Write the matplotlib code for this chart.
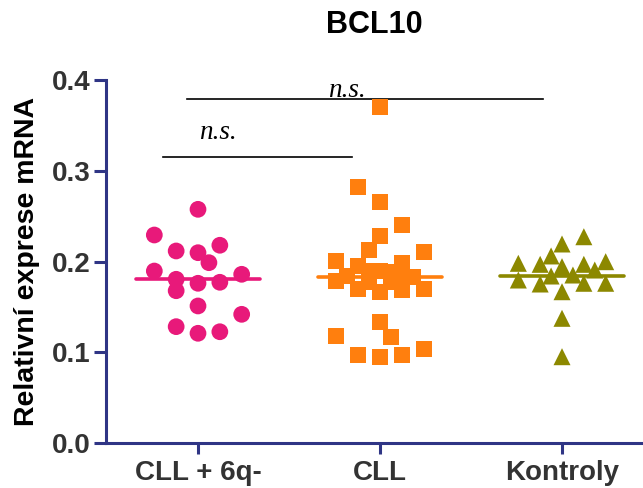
import matplotlib
matplotlib.use("Agg")
import matplotlib.pyplot as plt
import numpy as np

# ---- data ----
categories = ["CLL + 6q-", "CLL", "Kontroly"]
title = "BCL10"
ylabel = "Relativní exprese mRNA"
yticks = [0.0, 0.1, 0.2, 0.3, 0.4]
ytick_labels = ["0.0", "0.1", "0.2", "0.3", "0.4"]

cll6q_values = [0.2575, 0.2292, 0.2116, 0.2097, 0.2179, 0.1987, 0.1895, 0.1859,
                0.1804, 0.1760, 0.1771, 0.1678, 0.1510, 0.1418, 0.1282, 0.1209,
                0.1226]
cll_values = [0.3706, 0.2818, 0.2652, 0.2402, 0.2284, 0.2127, 0.2108, 0.2006,
              0.1954, 0.1987, 0.1895, 0.1880, 0.1900, 0.1840, 0.1830, 0.1788,
              0.1807, 0.1770, 0.1770, 0.1694, 0.1667, 0.1686, 0.1697, 0.1337,
              0.1171, 0.1179, 0.0970, 0.0951, 0.0970, 0.1033]
kontroly_values = [0.2273, 0.2193, 0.2061, 0.1980, 0.1969, 0.1969, 0.1998,
                   0.1906, 0.1796, 0.1752, 0.1840, 0.1851, 0.1760, 0.1760,
                   0.1667, 0.1374, 0.0951, 0.1943]

# horizontal scatter slots (column index within each group, as in the picture)
cll6q_slots = [0, -4, -2, 0, 2, 1, -4, 4, -2, 0, 2, -2, 0, 4, -2, 0, 2]
cll_slots = [0, -2, 0, 2, 0, -1, 4, -4, -2, 2, 0, 1, -1, -3, 3, -4, 2, -1, 1,
             -2, 0, 2, 4, 0, 1, -4, -2, 0, 2, 4]
kontroly_slots = [2, 0, -1, -4, -2, 2, 4, 3, -4, -2, -1, 1, 2, 4, 0, 0, 0, 0]

sig_label = "n.s."

# ---- style ----
axis_color = "#2f3585"
tick_label_color = "#333333"
colors = ["#e8197a", "#ff7f0e", "#8c8800"]
markers = ["o", "s", "^"]
SLOT = 0.06

plt.rcParams["font.family"] = ["Liberation Sans", "DejaVu Sans"]

fig = plt.figure(figsize=(6.43, 4.88), dpi=100)
ax = fig.add_axes([106 / 643, 45 / 488, 537 / 643, 363 / 488])

groups = [cll6q_values, cll_values, kontroly_values]
slots = [cll6q_slots, cll_slots, kontroly_slots]
msize = [145, 135, 150]
for i, (vals, sl) in enumerate(zip(groups, slots)):
    vals = np.asarray(vals)
    xs = i + np.asarray(sl) * SLOT
    ax.scatter(xs, vals, s=msize[i], marker=markers[i], color=colors[i],
               edgecolors="none", zorder=3, clip_on=False)
    m = vals.mean()
    ax.plot([i - 0.34, i + 0.34], [m, m], color=colors[i], lw=2.6,
            solid_capstyle="round", zorder=4)

# significance lines
ax.plot([-0.06, 1.896], [0.3787, 0.3787], color="black", lw=1.2, zorder=2, clip_on=False)
ax.plot([-0.19, 0.846], [0.3148, 0.3148], color="black", lw=1.2, zorder=2, clip_on=False)
ax.text(0.82, 0.3815, sig_label, ha="center", va="baseline", fontsize=19.5,
        family=["Liberation Serif"], style="italic")
ax.text(0.11, 0.3355, sig_label, ha="center", va="baseline", fontsize=19.5,
        family=["Liberation Serif"], style="italic")

ax.set_xlim(-0.5055, 2.445)
ax.set_ylim(0, 0.4)
ax.set_xticks(range(len(categories)))
ax.set_xticklabels(categories, fontsize=20, fontweight="bold", color=tick_label_color)
ax.set_yticks(yticks)
ax.set_yticklabels(ytick_labels, fontsize=20, fontweight="bold", color=tick_label_color)

for side in ["top", "right"]:
    ax.spines[side].set_visible(False)
for side in ["left", "bottom"]:
    ax.spines[side].set_color(axis_color)
    ax.spines[side].set_linewidth(2.2)
ax.tick_params(axis="y", length=9, width=2.2, color=axis_color, pad=2)
ax.tick_params(axis="x", length=8, width=2.2, color=axis_color, pad=4)

ax.set_ylabel(ylabel, fontsize=20.5, fontweight="bold", color="black")
ax.yaxis.set_label_coords(-0.122, 0.5)
ax.text(0.5, 1.129, title, transform=ax.transAxes, ha="center", va="baseline",
        fontsize=22, fontweight="bold")

fig.savefig("out.png", dpi=100)
